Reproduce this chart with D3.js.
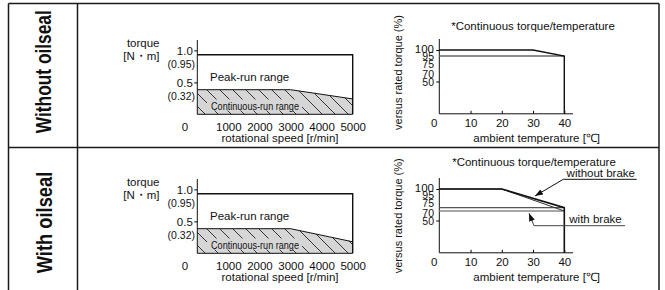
<!DOCTYPE html>
<html>
<head>
<meta charset="utf-8">
<script src="https://cdn.jsdelivr.net/npm/d3@7"></script>
<style>
body { margin: 0; background: #fff; }
text { font-family: "Liberation Sans", Arial, Helvetica, sans-serif; fill: #111; }
</style>
</head>
<body>
<svg id="chart" width="665" height="290"></svg>
<script>
// values
const rowLabels = ['Without oilseal', 'With oilseal'];
const speedTicks = [1000, 2000, 3000, 4000, 5000];
const torqueTicks = [1.0, 0.5];
const torqueNotes = [0.95, 0.32];
const peakRun = [[0, 0.95], [5000, 0.95]];
const contRunTop = [[0, 0.32], [3000, 0.32], [5000, 0.2]];
const contRunBottom = [[0, 0.32], [3000, 0.32], [5000, 0.15]];
const tempTicks = [10, 20, 30, 40];
const pctTicks = [100, 95, 75, 70, 50];
const pctTickMarks = [100, 50];
const derateTop = [[0, 100], [30, 100], [40, 95]];
const limitTop = [[0, 95], [40, 95]];
const derateNoBrake = [[0, 100], [20, 100], [40, 75]];
const derateBrake = [[0, 100], [20, 100], [40, 70]];
const levelNoBrake = [[0, 75], [40, 75]];
const levelBrake = [[0, 70], [40, 70]];

const svg = d3.select('#chart');

// scales are relative to each row (the chart is schematic, so the y scales are piecewise)
let xSpeed = d3.scaleLinear().domain([0, 5000]).range([197.3, 352.7]);
let yTorque = d3.scaleLinear().domain([0, 0.32, 0.5, 0.95, 1]).range([114.3, 89.7, 82.4, 54.8, 50.4]);
let xTemp = d3.scaleLinear().domain([0, 40]).range([439.3, 564.3]);
let yPct = d3.scaleLinear().domain([0, 50, 70, 75, 95, 100]).range([113.8, 81.5, 72, 68.7, 56, 50]);

const defs = svg.append('defs');
defs.append('pattern')
    .attr('id', 'hatch')
    .attr('patternUnits', 'userSpaceOnUse')
    .attr('width', 13).attr('height', 13)
    .append('path')
    .attr('d', 'M0,0L13,13M-4,9L4,17M9,-4L17,4')
    .attr('stroke', '#222')
    .attr('stroke-width', 0.9);
defs.append('marker')
    .attr('id', 'arrow')
    .attr('markerUnits', 'userSpaceOnUse')
    .attr('viewBox', '0 0 8 6')
    .attr('refX', 8).attr('refY', 3)
    .attr('markerWidth', 8).attr('markerHeight', 6)
    .attr('orient', 'auto')
    .append('path')
    .attr('d', 'M0,0L8,3L0,6z')
    .attr('fill', '#111');

let lineSpeed = d3.line().x(d => xSpeed(d[0])).y(d => yTorque(d[1]));
let lineTemp = d3.line().x(d => xTemp(d[0])).y(d => yPct(d[1]));

function draw_panel(g, cont, withBrake) {
    // ---- torque / speed chart
    let area = d3.area()
        .x(d => xSpeed(d[0]))
        .y0(yTorque(0))
        .y1(d => yTorque(d[1]));
    g.append('path').attr('d', area(cont)).attr('fill', '#d6d6d6');
    g.append('path').attr('d', area(cont)).attr('fill', 'url(#hatch)');
    g.append('rect')
        .attr('x', 207).attr('y', 99.5).attr('width', 95).attr('height', 11)
        .attr('fill', '#d6d6d6');
    g.append('text')
        .attr('x', 211).attr('y', 105.5)
        .attr('dominant-baseline', 'central')
        .attr('font-size', 10.5)
        .attr('textLength', 88).attr('lengthAdjust', 'spacingAndGlyphs')
        .text('Continuous-run range');
    g.append('path').attr('d', lineSpeed(cont))
        .attr('fill', 'none').attr('stroke', '#111').attr('stroke-width', 1);

    // peak line and right edge
    g.append('path')
        .attr('d', lineSpeed(peakRun.concat([[5000, 0]])))
        .attr('fill', 'none').attr('stroke', '#111').attr('stroke-width', 1.4);
    g.append('line')
        .attr('x1', xSpeed(0)).attr('x2', xSpeed(5000))
        .attr('y1', yTorque(0)).attr('y2', yTorque(0))
        .attr('stroke', '#111').attr('stroke-width', 1);
    g.append('line')
        .attr('x1', xSpeed(0)).attr('x2', xSpeed(0))
        .attr('y1', 40).attr('y2', yTorque(0))
        .attr('stroke', '#111').attr('stroke-width', 1);

    let axisT = g.append('g')
        .attr('transform', `translate(${xSpeed(0)},0)`)
        .call(d3.axisLeft(yTorque).tickValues(torqueTicks).tickSize(3).tickPadding(1.5).tickFormat(d3.format('.1f')));
    axisT.select('.domain').remove();
    axisT.selectAll('text').attr('font-size', 11.5).attr('font-family', null).attr('fill', '#111');

    g.selectAll('.note')
        .data(torqueNotes)
        .enter()
        .append('text')
        .attr('x', 195)
        .attr('y', (d, i) => yTorque(d) + (i == 0 ? 9.4 : 6))
        .attr('text-anchor', 'end')
        .attr('dominant-baseline', 'central')
        .attr('font-size', 10.5)
        .text(d => '(' + d + ')');

    let axisS = g.append('g')
        .attr('transform', `translate(0,${yTorque(0)})`)
        .call(d3.axisBottom(xSpeed).tickValues(speedTicks).tickSize(0).tickFormat(d3.format('d')));
    axisS.select('.domain').remove();
    axisS.selectAll('text')
        .attr('y', 12.4).attr('dy', '0.35em')
        .attr('font-size', 11.5).attr('font-family', null).attr('fill', '#111');
    g.append('text')
        .attr('x', 185).attr('y', yTorque(0) + 12.4)
        .attr('text-anchor', 'middle').attr('dominant-baseline', 'central')
        .attr('font-size', 11.5).text('0');

    g.append('text').attr('x', 210).attr('y', 77)
        .attr('dominant-baseline', 'central').attr('font-size', 11.5)
        .text('Peak-run range');
    g.append('text').attr('x', 159.5).attr('y', 43)
        .attr('text-anchor', 'end').attr('dominant-baseline', 'central').attr('font-size', 11.5)
        .text('torque');
    g.append('text').attr('x', 159.5).attr('y', 55.5)
        .attr('text-anchor', 'end').attr('dominant-baseline', 'central').attr('font-size', 11.5)
        .text('[N・m]');
    g.append('text').attr('x', 280).attr('y', 137.8)
        .attr('text-anchor', 'middle').attr('dominant-baseline', 'central').attr('font-size', 11.5)
        .text('rotational speed [r/min]');

    // ---- torque / temperature chart
    let axisP = g.append('g')
        .attr('transform', `translate(${xTemp(0)},0)`)
        .call(d3.axisLeft(yPct).tickValues(pctTickMarks).tickSize(3).tickFormat(''));
    axisP.select('.domain').remove();
    let nudge = {75: -4.4, 70: 2, 100: -1};
    g.selectAll('.pct')
        .data(pctTicks)
        .enter()
        .append('text')
        .attr('x', 434)
        .attr('y', d => yPct(d) + (nudge[d] || 0))
        .attr('text-anchor', 'end').attr('dominant-baseline', 'central')
        .attr('font-size', d => (d == 100 ? 11.5 : 10.5))
        .text(d => d);

    g.append('line')
        .attr('x1', xTemp(0)).attr('x2', xTemp(0))
        .attr('y1', 39).attr('y2', yPct(0))
        .attr('stroke', '#111').attr('stroke-width', 1);
    let axisC = g.append('g')
        .attr('transform', `translate(0,${yPct(0)})`)
        .call(d3.axisBottom(xTemp).tickValues(tempTicks).tickSize(-3));
    axisC.select('.domain').remove();
    axisC.selectAll('text')
        .attr('y', 9.5).attr('dy', '0.35em')
        .attr('font-size', 11.5).attr('font-family', null).attr('fill', '#111');
    g.append('line')
        .attr('x1', xTemp(0)).attr('x2', 573)
        .attr('y1', yPct(0)).attr('y2', yPct(0))
        .attr('stroke', '#111').attr('stroke-width', 1);
    g.append('text')
        .attr('x', 434.3).attr('y', yPct(0) + 9.5)
        .attr('text-anchor', 'middle').attr('dominant-baseline', 'central')
        .attr('font-size', 11.5).text('0');
    g.append('text').attr('x', 536.7).attr('y', 137.5)
        .attr('text-anchor', 'middle').attr('dominant-baseline', 'central').attr('font-size', 11.5)
        .text('ambient temperature [℃]');

    if (!withBrake) {
        g.append('path').attr('d', lineTemp(limitTop))
            .attr('fill', 'none').attr('stroke', '#666').attr('stroke-width', 1.4);
        g.append('path').attr('d', lineTemp(derateTop.concat([[40, 0]])))
            .attr('fill', 'none').attr('stroke', '#111').attr('stroke-width', 1.4);
        g.append('text').attr('x', 533).attr('y', 26)
            .attr('text-anchor', 'middle').attr('dominant-baseline', 'central').attr('font-size', 11.5)
            .text('*Continuous torque/temperature');
        g.append('text')
            .attr('transform', 'translate(398,72.5) rotate(-90)')
            .attr('text-anchor', 'middle').attr('dominant-baseline', 'central').attr('font-size', 11)
            .text('versus rated torque (%)');
    } else {
        g.append('path').attr('d', lineTemp(levelNoBrake))
            .attr('fill', 'none').attr('stroke', '#555').attr('stroke-width', 1.3);
        g.append('path').attr('d', lineTemp(levelBrake))
            .attr('fill', 'none').attr('stroke', '#888').attr('stroke-width', 1.3);
        g.append('path').attr('d', lineTemp(derateBrake))
            .attr('fill', 'none').attr('stroke', '#333').attr('stroke-width', 1);
        g.append('path').attr('d', lineTemp(derateNoBrake.concat([[40, 0]])))
            .attr('fill', 'none').attr('stroke', '#111').attr('stroke-width', 1.6);
        g.append('text').attr('x', 534).attr('y', 22.7)
            .attr('text-anchor', 'middle').attr('dominant-baseline', 'central').attr('font-size', 11.5)
            .text('*Continuous torque/temperature');
        g.append('text')
            .attr('transform', 'translate(398,76.8) rotate(-90)')
            .attr('text-anchor', 'middle').attr('dominant-baseline', 'central').attr('font-size', 11)
            .text('versus rated torque (%)');

        // annotations
        g.append('text').attr('x', 635).attr('y', 33.7)
            .attr('text-anchor', 'end').attr('dominant-baseline', 'central').attr('font-size', 11.5)
            .text('without brake');
        g.append('line').attr('x1', 563.3).attr('x2', 636.7).attr('y1', 40.3).attr('y2', 40.3)
            .attr('stroke', '#111').attr('stroke-width', 1);
        g.append('line').attr('x1', 563.3).attr('y1', 40.3).attr('x2', 535).attr('y2', 57)
            .attr('stroke', '#111').attr('stroke-width', 1).attr('marker-end', 'url(#arrow)');
        g.append('text').attr('x', 621.7).attr('y', 80)
            .attr('text-anchor', 'end').attr('dominant-baseline', 'central').attr('font-size', 11.5)
            .text('with brake');
        g.append('line').attr('x1', 534).attr('x2', 625).attr('y1', 86.7).attr('y2', 86.7)
            .attr('stroke', '#444').attr('stroke-width', 1);
        g.append('line').attr('x1', 534).attr('y1', 86.7).attr('x2', 529).attr('y2', 74.3)
            .attr('stroke', '#444').attr('stroke-width', 1).attr('marker-end', 'url(#arrow)');
    }
}

draw_panel(svg.append('g'), contRunTop, false);
draw_panel(svg.append('g').attr('transform', 'translate(0,139)'), contRunBottom, true);

// table frame
let frame = svg.append('g').attr('stroke', '#1a1a1a').attr('stroke-width', 1.5);
[8.5, 77.5, 659].forEach(x => {
    frame.append('line').attr('x1', x).attr('x2', x).attr('y1', 3.5).attr('y2', 290);
});
[3.5, 147.5].forEach(y => {
    frame.append('line').attr('x1', 8.5).attr('x2', 659).attr('y1', y).attr('y2', y);
});

// row labels
let rowPos = [[43.5, 71.7, 123], [43.8, 222.5, 101.6]];
rowLabels.forEach((t, i) => {
    svg.append('text')
        .attr('transform', `translate(${rowPos[i][0]},${rowPos[i][1]}) rotate(-90) scale(1,1.25)`)
        .attr('text-anchor', 'middle')
        .attr('dominant-baseline', 'central')
        .attr('font-size', 17.5)
        .attr('font-weight', 'bold')
        .attr('textLength', rowPos[i][2])
        .attr('lengthAdjust', 'spacingAndGlyphs')
        .text(t);
});
</script>
</body>
</html>
